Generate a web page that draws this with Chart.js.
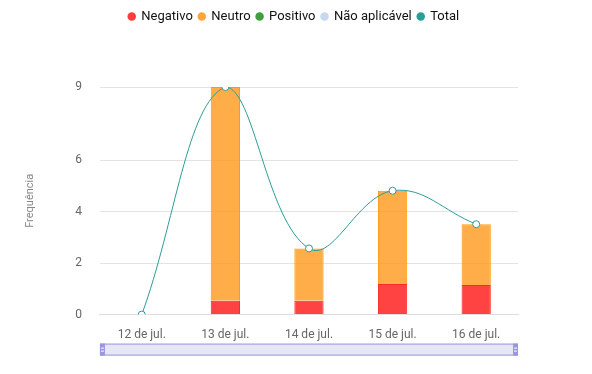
<!DOCTYPE html>
<html>
<head>
<meta charset="utf-8">
<script src="https://cdn.jsdelivr.net/npm/chart.js@4"></script>
<style>
    html, body { margin: 0; padding: 0; background: #fff; }
    #wrap { width: 592px; height: 374px; }
</style>
</head>
<body>
<div id="wrap"><canvas id="chart" width="592" height="374"></canvas></div>
<script>
const labels = ["12 de jul.", "13 de jul.", "14 de jul.", "15 de jul.", "16 de jul."];
const negativo = [0, 0.54, 0.54, 1.19, 1.15];
const neutro = [0, 8.30, 2.03, 3.62, 2.36];
const positivo = [0, 0, 0, 0, 0];
const naoAplicavel = [0, 0, 0, 0, 0];
const total = [0, 8.84, 2.57, 4.81, 3.51];
const yTicks = [0, 2, 4, 6];

const FONT = "Roboto, 'Liberation Sans', sans-serif";

// extra gap between the legend and the plot, and legend centred on the page
const legendGap = {
    id: "legendGap",
    beforeInit(chart) {
        const fit = chart.legend.fit;
        chart.legend.fit = function () {
            fit.bind(chart.legend)();
            this.height += 54;
        };
    },
    afterLayout(chart) {
        chart.legend.left += 23;
        chart.legend.right += 23;
    }
};

// range slider under the x axis (decoration only)
const sliderPlugin = {
    id: "slider",
    afterDraw(chart) {
        const ctx = chart.ctx;
        const area = chart.chartArea;
        const x = area.left;
        const w = area.right - area.left;
        const y = area.bottom + 29;
        const h = 12;
        ctx.save();
        ctx.fillStyle = "#e6e6f7";
        ctx.fillRect(x, y, w, h);
        ctx.strokeStyle = "#9c96e2";
        ctx.lineWidth = 1;
        ctx.strokeRect(x + 0.5, y + 0.5, w - 1, h - 1);
        ctx.fillStyle = "#9c96e2";
        ctx.fillRect(x, y, 5, h);
        ctx.fillRect(x + w - 5, y, 5, h);
        ctx.fillStyle = "#ffffff";
        [x + 1, x + w - 4].forEach((hx) => {
            ctx.fillRect(hx, y + 4, 3, 1);
            ctx.fillRect(hx, y + 7, 3, 1);
        });
        ctx.restore();
    }
};

new Chart(document.getElementById("chart").getContext("2d"), {
    data: {
        labels: labels,
        datasets: [
            {
                type: "line",
                label: "Total",
                data: total,
                borderColor: "#2a9d99",
                backgroundColor: "#2a9d99",
                borderWidth: 1,
                pointBackgroundColor: "#ffffff",
                pointBorderColor: "#2a9d99",
                pointBorderWidth: 1,
                pointRadius: 3.5,
                tension: 0.4,
                stack: "total",
                order: 0
            },
            {
                type: "bar",
                label: "Negativo",
                data: negativo,
                backgroundColor: "rgba(255, 20, 20, 0.8)",
                borderColor: "#ff2a2a",
                borderWidth: 1,
                stack: "s",
                order: 1
            },
            {
                type: "bar",
                label: "Neutro",
                data: neutro,
                backgroundColor: "rgba(255, 150, 20, 0.78)",
                borderColor: "#ff9a10",
                borderWidth: 1,
                stack: "s",
                order: 1
            },
            {
                type: "bar",
                label: "Positivo",
                data: positivo,
                backgroundColor: "#3f9f3f",
                borderColor: "#3f9f3f",
                borderWidth: 0,
                stack: "s",
                order: 1
            },
            {
                type: "bar",
                label: "Não aplicável",
                data: naoAplicavel,
                backgroundColor: "#c6d9ee",
                borderColor: "#c6d9ee",
                borderWidth: 0,
                stack: "s",
                order: 1
            }
        ]
    },
    options: {
        responsive: false,
        animation: false,
        datasets: { bar: { barPercentage: 0.35, categoryPercentage: 1 } },
        layout: { padding: { left: 24, right: 74, top: 4, bottom: 27 } },
        plugins: {
            legend: {
                position: "top",
                labels: {
                    usePointStyle: true,
                    pointStyle: "circle",
                    boxWidth: 6,
                    boxHeight: 6,
                    padding: 6,
                    color: "#111",
                    font: { family: FONT, size: 13 },
                    sort: (a, b) => {
                        const order = ["Negativo", "Neutro", "Positivo", "Não aplicável", "Total"];
                        return order.indexOf(a.text) - order.indexOf(b.text);
                    },
                    generateLabels: (chart) => {
                        const items = Chart.defaults.plugins.legend.labels.generateLabels(chart);
                        items.forEach((it) => {
                            const ds = chart.data.datasets[it.datasetIndex];
                            it.fillStyle = ds.backgroundColor;
                            if (ds.type === "line") { it.fillStyle = ds.borderColor; }
                            if (ds.label === "Negativo") { it.fillStyle = "#ff3b3b"; }
                            if (ds.label === "Neutro") { it.fillStyle = "#ffa53a"; }
                            it.strokeStyle = it.fillStyle;
                            it.lineWidth = 0;
                        });
                        return items;
                    }
                }
            },
            tooltip: { enabled: false }
        },
        scales: {
            x: {
                stacked: true,
                grid: { display: false },
                border: { color: "#ddd" },
                ticks: { color: "#666", padding: 5, font: { family: FONT, size: 12 } }
            },
            y: {
                stacked: true,
                min: 0,
                max: Math.max(...total),
                afterBuildTicks: (scale) => {
                    scale.ticks = yTicks.concat([scale.max]).map((v) => ({ value: v }));
                },
                grid: { color: "#e4e4e4", drawTicks: false },
                border: { display: false },
                title: {
                    display: true,
                    text: "Frequência",
                    color: "#888",
                    padding: { top: 0, bottom: 20 },
                    font: { family: FONT, size: 11 }
                },
                ticks: {
                    color: "#666",
                    padding: 18,
                    font: { family: FONT, size: 12 },
                    callback: (v) => Math.round(v)
                }
            }
        }
    },
    plugins: [legendGap, sliderPlugin]
});
</script>
</body>
</html>
